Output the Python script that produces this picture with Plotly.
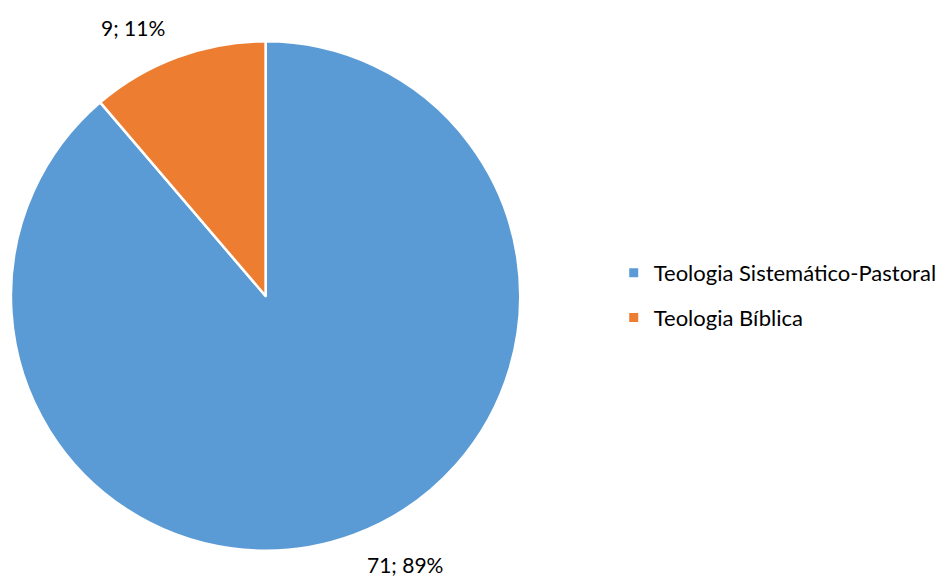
import math
import plotly.graph_objects as go

# Categories and counts
categories = ["Teologia Sistemático-Pastoral", "Teologia Bíblica"]
counts = [71, 9]
colors = ["#5B9BD5", "#ED7D31"]

W, H = 942, 578
FONT = "Lato, 'Open Sans', sans-serif"

# Pie geometry (pixels)
CX, CY, R = 267, 296, 256
LABEL_R = R + 26
LABEL_DX, LABEL_DY = 3, 4

fig = go.Figure()

fig.add_trace(go.Pie(
    labels=categories,
    values=counts,
    sort=False,
    direction="clockwise",
    rotation=0,
    marker=dict(colors=colors, line=dict(color="white", width=2.5)),
    textinfo="none",
    showlegend=False,
    hoverinfo="label+value+percent",
    domain=dict(x=[(CX - R) / W, (CX + R) / W], y=[1 - (CY + R) / H, 1 - (CY - R) / H]),
))

# Data labels "value; percent" placed just outside each slice's mid-angle
total = sum(counts)
start = 0.0
for v in counts:
    mid = (start + v / 2) / total * 2 * math.pi
    start += v
    sx, cy_ = math.sin(mid), math.cos(mid)
    px = CX + LABEL_R * sx + math.copysign(LABEL_DX, sx)
    py = CY - LABEL_R * cy_ - math.copysign(LABEL_DY, cy_)
    fig.add_annotation(
        x=px / W, y=1 - py / H, xref="paper", yref="paper",
        text=f"{v}; {round(100 * v / total)}%",
        showarrow=False,
        xanchor="left" if sx > 0 else "right",
        yanchor="middle",
        borderpad=0,
        font=dict(family=FONT, size=21, color="#000000"),
    )

# Legend entries with square swatches
for name, col in zip(categories, colors):
    fig.add_trace(go.Scatter(
        x=[None], y=[None], mode="markers", name=name, legendgroup=name,
        marker=dict(symbol="square", size=9, color=col),
    ))

fig.update_layout(
    width=W, height=H,
    margin=dict(l=0, r=0, t=0, b=0),
    paper_bgcolor="white",
    plot_bgcolor="white",
    xaxis=dict(visible=False),
    yaxis=dict(visible=False),
    legend=dict(
        x=617 / W, y=1 - 252 / H, xanchor="left", yanchor="top",
        font=dict(family=FONT, size=22, color="#000000"),
        tracegroupgap=13,
        itemwidth=30,
        bgcolor="rgba(0,0,0,0)",
    ),
    font=dict(family=FONT),
)

fig.write_html("out.html")
